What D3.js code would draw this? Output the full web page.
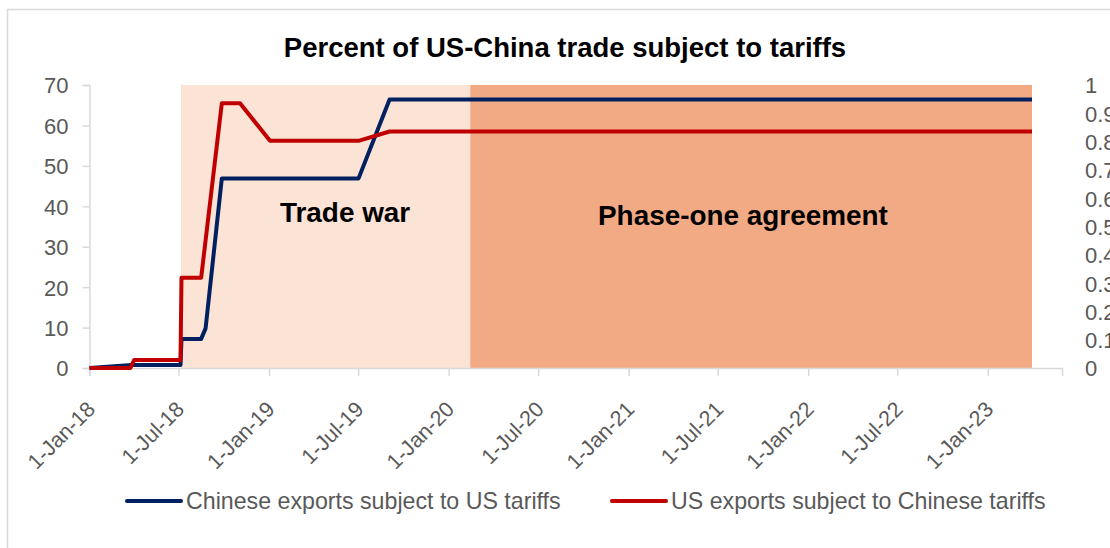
<!DOCTYPE html>
<html>
<head>
<meta charset="utf-8">
<script src="https://cdn.jsdelivr.net/npm/d3@7"></script>
<style>
  html, body { margin: 0; padding: 0; background: #fff; }
  svg { display: block; }
  text { font-family: "Liberation Sans", Arial, sans-serif; }
</style>
</head>
<body>
<svg id="chart" width="1110" height="548"></svg>
<script>
// ---- Data ----
const chineseDates  = ["2018-01-01","2018-03-28","2018-07-05","2018-07-07","2018-08-16","2018-08-25","2018-09-27","2019-07-02","2019-09-03","2023-04-01"];
const chineseValues = [0, 0.75, 0.75, 7.2, 7.2, 9.8, 46.9, 46.9, 66.4, 66.4];

const usDates  = ["2018-01-01","2018-03-25","2018-04-02","2018-07-05","2018-07-07","2018-08-16","2018-09-27","2018-11-03","2019-01-03","2019-07-02","2019-09-03","2023-04-01"];
const usValues = [0, 0, 2, 2, 22.3, 22.3, 65.5, 65.5, 56.2, 56.2, 58.5, 58.5];

const seriesNames = ["Chinese exports subject to US tariffs", "US exports subject to Chinese tariffs"];

const periodNames  = ["Trade war", "Phase-one agreement"];
const periodStarts = ["2018-07-06", "2020-02-14"];
const periodEnds   = ["2020-02-14", "2023-04-01"];

const leftTicks  = [0, 10, 20, 30, 40, 50, 60, 70];
const rightTicks = [0, 0.1, 0.2, 0.3, 0.4, 0.5, 0.6, 0.7, 0.8, 0.9, 1];
const xDomain = ["2018-01-01", "2023-06-01"];
const chartTitle = "Percent of US-China trade subject to tariffs";

// ---- Setup ----
const parse = d3.timeParse("%Y-%m-%d");
const svg = d3.select("#chart");
const axisGray = "#D9D9D9", textGray = "#595959";
const blue = "#002060", red = "#C00000";
const periodFills = ["#FBE3D6", "#F2AA84"];

const x = d3.scaleTime().domain(xDomain.map(parse)).range([89.5, 1062]);
const yL = d3.scaleLinear().domain([0, 70]).range([368, 85]);
const yR = d3.scaleLinear().domain([0, 1]).range([368, 85]);

// chart border
svg.append("rect").attr("x", 7.5).attr("y", 9.5).attr("width", 1200).attr("height", 700)
  .attr("fill", "none").attr("stroke", axisGray).attr("stroke-width", 1.5);

// title
svg.append("text").attr("x", 565).attr("y", 57).attr("text-anchor", "middle")
  .attr("font-size", 27.5).attr("font-weight", "bold").attr("fill", "#000").text(chartTitle);

// shaded periods
svg.append("g").selectAll("rect").data(periodNames).join("rect")
  .attr("x", (d, i) => x(parse(periodStarts[i])))
  .attr("width", (d, i) => x(parse(periodEnds[i])) - x(parse(periodStarts[i])))
  .attr("y", yL(70)).attr("height", yL(0) - yL(70))
  .attr("fill", (d, i) => periodFills[i]);

// axes
const gL = svg.append("g").attr("transform", "translate(89.5,0)")
  .call(d3.axisLeft(yL).tickValues(leftTicks).tickSize(7).tickPadding(14).tickFormat(d3.format("d")));
const gR = svg.append("g").attr("transform", "translate(1062,0)")
  .call(d3.axisRight(yR).tickValues(rightTicks).tickSize(0).tickPadding(23).tickFormat(d => d3.format("")(+d.toFixed(1))));
gR.select(".domain").remove();

const xTicks = d3.timeMonth.every(6).range(parse("2018-01-01"), parse("2023-01-02"));
const gX = svg.append("g").attr("transform", "translate(0,368)")
  .call(d3.axisBottom(x).tickValues(xTicks).tickSize(8).tickFormat(d3.timeFormat("%-d-%b-%y")));

[gL, gR, gX].forEach(g => {
  g.selectAll(".domain").attr("stroke", axisGray).attr("stroke-width", 1.5);
  g.selectAll(".tick line").attr("stroke", axisGray).attr("stroke-width", 1.5);
  g.selectAll("text").attr("fill", textGray).attr("font-size", 22).attr("font-family", "Liberation Sans, Arial, sans-serif");
});
gL.selectAll("text").attr("dy", "0.36em");
gR.selectAll("text").attr("dy", "0.36em");
gX.selectAll("text")
  .attr("font-size", 21.5)
  .attr("text-anchor", "end")
  .attr("dy", "0.36em")
  .attr("transform", "translate(1,37) rotate(-45)")
  .attr("y", 0).attr("x", 0);

// lines
const line = d3.line().x(d => x(d[0])).y(d => yL(d[1])).curve(d3.curveLinear);
const chinese = chineseDates.map((d, i) => [parse(d), chineseValues[i]]);
const us = usDates.map((d, i) => [parse(d), usValues[i]]);
svg.append("path").datum(chinese).attr("d", line).attr("fill", "none")
  .attr("stroke", blue).attr("stroke-width", 4).attr("stroke-linejoin", "round");
svg.append("path").datum(us).attr("d", line).attr("fill", "none")
  .attr("stroke", red).attr("stroke-width", 4).attr("stroke-linejoin", "round");

// period labels
const labelX = [280, 598], labelY = [222, 225];
svg.append("g").selectAll("text").data(periodNames).join("text")
  .attr("x", (d, i) => labelX[i]).attr("y", (d, i) => labelY[i])
  .attr("font-size", 27.9).attr("font-weight", "bold").attr("fill", "#000")
  .text(d => d);

// legend
const legX = [127, 612];
const colors = [blue, red];
const leg = svg.append("g").selectAll("g").data(seriesNames).join("g")
  .attr("transform", (d, i) => `translate(${legX[i]},501)`);
leg.append("line").attr("x1", 0).attr("x2", 54).attr("y1", 0).attr("y2", 0)
  .attr("stroke", (d, i) => colors[i]).attr("stroke-width", 4).attr("stroke-linecap", "round");
leg.append("text").attr("x", 59).attr("y", 0).attr("dy", "0.36em")
  .attr("font-size", 23.2).attr("fill", textGray).text(d => d);
</script>
</body>
</html>
